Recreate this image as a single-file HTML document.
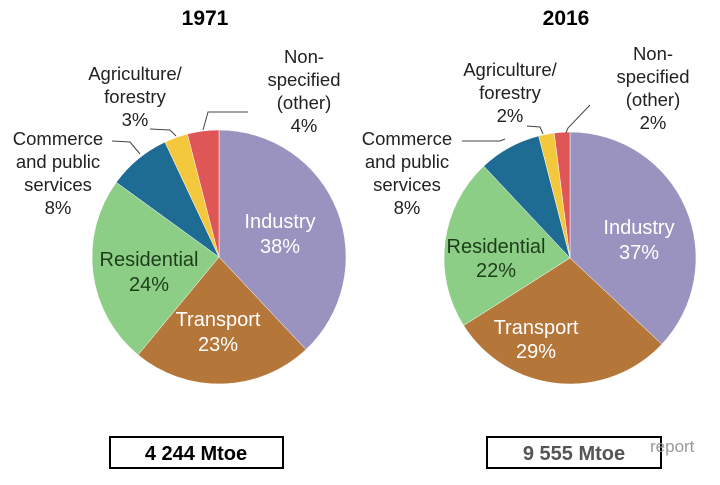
<!DOCTYPE html>
<html><head><meta charset="utf-8"><style>
body{margin:0;background:#fff;}
svg text{font-family:"Liberation Sans",Arial,sans-serif;}
</style></head><body>
<svg width="720" height="480" viewBox="0 0 720 480" xmlns="http://www.w3.org/2000/svg">
<g id="p1"></g><g id="p2"></g>
<text x="205" y="25" font-size="21" font-weight="bold" text-anchor="middle">1971</text>
<text x="566" y="25" font-size="21" font-weight="bold" text-anchor="middle">2016</text>
<g font-size="18.5" fill="#222" text-anchor="middle">
<text x="135" y="80">Agriculture/</text><text x="135" y="103">forestry</text><text x="135" y="126">3%</text>
<text x="304" y="63">Non-</text><text x="304" y="86">specified</text><text x="304" y="109">(other)</text><text x="304" y="132">4%</text>
<text x="58" y="145">Commerce</text><text x="58" y="168">and public</text><text x="58" y="191">services</text><text x="58" y="214">8%</text>
<text x="510" y="76">Agriculture/</text><text x="510" y="99">forestry</text><text x="510" y="122">2%</text>
<text x="653" y="60">Non-</text><text x="653" y="83">specified</text><text x="653" y="106">(other)</text><text x="653" y="129">2%</text>
<text x="407" y="145">Commerce</text><text x="407" y="168">and public</text><text x="407" y="191">services</text><text x="407" y="214">8%</text>
</g>
<g stroke="#444" stroke-width="1" fill="none">
<polyline points="150,129 170,130 176,136"/>
<polyline points="248,112 208,112 203,130"/>
<polyline points="112,141 130,142 140,154"/>
<polyline points="527,126 540,127 543,134"/>
<polyline points="590,105 568,128 566,133"/>
<polyline points="462,141 500,141 505,139"/>
</g>
<g font-size="20" text-anchor="middle">
<text x="280" y="228" fill="#fff">Industry</text><text x="280" y="253" fill="#fff">38%</text>
<text x="218" y="326" fill="#fff">Transport</text><text x="218" y="351" fill="#fff">23%</text>
<text x="149" y="266" fill="#1d3d1a">Residential</text><text x="149" y="291" fill="#1d3d1a">24%</text>
<text x="639" y="234" fill="#fff">Industry</text><text x="639" y="259" fill="#fff">37%</text>
<text x="536" y="334" fill="#fff">Transport</text><text x="536" y="358" fill="#fff">29%</text>
<text x="496" y="253" fill="#1d3d1a">Residential</text><text x="496" y="277" fill="#1d3d1a">22%</text>
</g>
<rect x="110" y="437" width="173" height="31" fill="#fff" stroke="#000" stroke-width="2"/>
<text x="196" y="460" font-size="20" font-weight="bold" text-anchor="middle">4 244 Mtoe</text>
<rect x="487" y="437" width="174" height="31" fill="#fff" stroke="#000" stroke-width="2"/>
<text x="574" y="460" font-size="20" font-weight="bold" text-anchor="middle" fill="#555">9 555 Mtoe</text>
<text x="650" y="452" font-size="17" fill="#999">report</text>
</svg>
<script>
function pie(id,cx,cy,r,vals,cols){
 var g=document.getElementById(id),a=0,s='';
 for(var i=0;i<vals.length;i++){
  var a0=a*2*Math.PI/100,a1=(a+vals[i])*2*Math.PI/100;
  var x0=cx+r*Math.sin(a0),y0=cy-r*Math.cos(a0),x1=cx+r*Math.sin(a1),y1=cy-r*Math.cos(a1);
  s+='<path d="M'+cx+','+cy+'L'+x0+','+y0+'A'+r+','+r+' 0 '+(vals[i]>50?1:0)+' 1 '+x1+','+y1+'Z" fill="'+cols[i]+'" stroke="#fff" stroke-width="0.5"/>';
  a+=vals[i];
 }
 g.innerHTML=s;
}
var c=['#9a93bf','#b5763a','#8dce86','#1e6c94','#f3c83c','#de5656'];
pie('p1',219,257,127,[38,23,24,8,3,4],c);
pie('p2',570,258,126,[37,29,22,8,2,2],c);
</script>
</body></html>
